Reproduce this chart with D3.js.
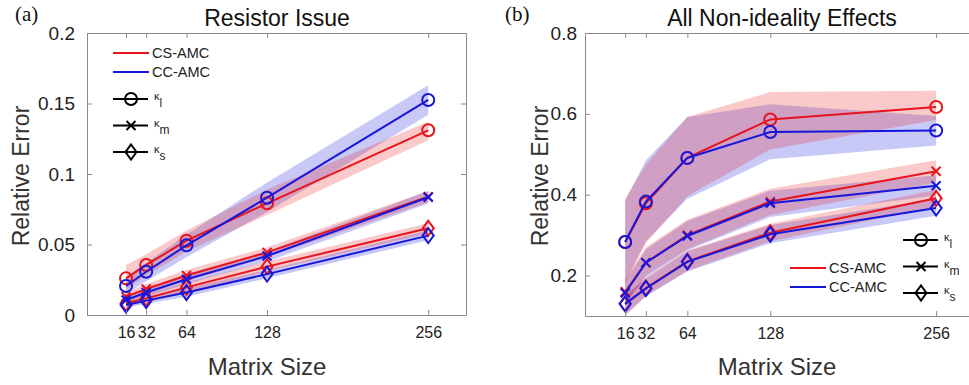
<!DOCTYPE html>
<html lang="en">
<head>
    <meta charset="UTF-8"/>
    <title>Relative Error vs Matrix Size</title>
    <script src="https://cdn.jsdelivr.net/npm/d3@7"></script>
    <style>
        html, body {
            margin: 0;
            background: white;
        }
        svg {
            display: block;
            font-family: "Liberation Sans", Arial, sans-serif;
        }
    </style>
</head>
<body>
<div id="container"></div>

<script>
    // matrix sizes (x axis)
    const sizes = [16, 32, 64, 128, 256]

    // (a) Resistor Issue - mean curves
    const aCsL = [0.026, 0.0355, 0.0527, 0.0792, 0.131]
    const aCcL = [0.0206, 0.0307, 0.0494, 0.0832, 0.1525]
    const aCsM = [0.013, 0.0184, 0.028, 0.0444, 0.0839]
    const aCcM = [0.0106, 0.016, 0.0253, 0.0418, 0.0835]
    const aCsS = [0.0083, 0.0118, 0.0196, 0.0343, 0.0615]
    const aCcS = [0.0071, 0.0102, 0.016, 0.029, 0.0563]
    // (a) shaded bands (upper / lower)
    const aCsLHi = [0.0355, 0.043, 0.060, 0.089, 0.137]
    const aCsLLo = [0.018, 0.028, 0.045, 0.071, 0.124]
    const aCcLHi = [0.027, 0.037, 0.057, 0.094, 0.163]
    const aCcLLo = [0.015, 0.024, 0.041, 0.073, 0.142]
    const aCsMHi = [0.016, 0.022, 0.032, 0.048, 0.088]
    const aCsMLo = [0.010, 0.015, 0.024, 0.041, 0.080]
    const aCcMHi = [0.013, 0.019, 0.029, 0.045, 0.088]
    const aCcMLo = [0.008, 0.013, 0.022, 0.038, 0.079]
    const aCsSHi = [0.011, 0.015, 0.023, 0.038, 0.065]
    const aCsSLo = [0.006, 0.009, 0.016, 0.031, 0.058]
    const aCcSHi = [0.009, 0.013, 0.019, 0.032, 0.060]
    const aCcSLo = [0.005, 0.008, 0.013, 0.026, 0.053]

    // (b) All Non-ideality Effects - mean curves
    const bCsL = [0.283, 0.379, 0.491, 0.586, 0.617]
    const bCcL = [0.283, 0.383, 0.491, 0.555, 0.559]
    const bCsM = [0.16, 0.232, 0.30, 0.383, 0.458]
    const bCcM = [0.157, 0.232, 0.298, 0.379, 0.422]
    const bCsS = [0.13, 0.169, 0.235, 0.306, 0.391]
    const bCcS = [0.13, 0.168, 0.234, 0.302, 0.367]
    // (b) shaded bands
    const bCsLHi = [0.39, 0.475, 0.592, 0.654, 0.657]
    const bCsLLo = [0.18, 0.28, 0.396, 0.512, 0.585]
    const bCcLHi = [0.385, 0.485, 0.592, 0.624, 0.595]
    const bCcLLo = [0.185, 0.285, 0.39, 0.488, 0.522]
    const bCsMHi = [0.19, 0.27, 0.338, 0.415, 0.485]
    const bCsMLo = [0.13, 0.20, 0.265, 0.35, 0.43]
    const bCcMHi = [0.185, 0.265, 0.335, 0.41, 0.448]
    const bCcMLo = [0.13, 0.195, 0.262, 0.345, 0.398]
    const bCsSHi = [0.15, 0.195, 0.262, 0.328, 0.412]
    const bCsSLo = [0.102, 0.15, 0.212, 0.285, 0.37]
    const bCcSHi = [0.15, 0.193, 0.26, 0.325, 0.39]
    const bCcSLo = [0.102, 0.148, 0.21, 0.28, 0.348]

    const aTicksY = [0, 0.05, 0.1, 0.15, 0.2]
    const bTicksY = [0.2, 0.4, 0.6, 0.8]
    const methods = ['CS-AMC', 'CC-AMC']
    const kappas = ['l', 'm', 's']

    const RED = '#e8141c'
    const BLUE = '#1717dc'
    const AXIS = '#8a8a8a'

    const svg = d3.select('#container').append('svg')
        .attr('width', 969)
        .attr('height', 385)

    function marker(g, type, x, y, color) {
        if (type === 'l') {
            g.append('circle').attr('cx', x).attr('cy', y).attr('r', 6)
                .attr('fill', 'none').attr('stroke', color).attr('stroke-width', 2)
        } else if (type === 'm') {
            const s = 4.5
            g.append('path')
                .attr('d', `M${x - s},${y - s}L${x + s},${y + s}M${x - s},${y + s}L${x + s},${y - s}`)
                .attr('stroke', color).attr('stroke-width', 2)
        } else {
            g.append('path')
                .attr('d', `M${x},${y - 7.5}L${x + 5.5},${y}L${x},${y + 7.5}L${x - 5.5},${y}Z`)
                .attr('fill', 'none').attr('stroke', color).attr('stroke-width', 2)
        }
    }

    function drawPanel(p) {
        const g = svg.append('g')
        const x = d3.scaleLinear().domain([-15, 286]).range([p.left, p.right])
        const y = d3.scaleLinear().domain(p.yDomain).range([p.bottom, p.top])

        // bands: blue first, red above (mauve overlap)
        const area = d3.area()
            .x((d, i) => x(sizes[i]))
            .y0(d => y(d[0]))
            .y1(d => y(d[1]))
        const bandOrder = p.series.slice().reverse()
        bandOrder.forEach(s => {
            g.append('path')
                .datum(d3.zip(s.lo, s.hi))
                .attr('d', area)
                .attr('fill', s.color)
                .attr('fill-opacity', 0.23)
        })

        // lines + markers (blue on top)
        const line = d3.line().x((d, i) => x(sizes[i])).y(d => y(d))
        p.series.forEach(s => {
            g.append('path')
                .datum(s.mean)
                .attr('d', line)
                .attr('fill', 'none')
                .attr('stroke', s.color)
                .attr('stroke-width', 2)
            s.mean.forEach((v, i) => marker(g, s.kappa, x(sizes[i]), y(v), s.color))
        })

        // axes with inward ticks, MATLAB-like box
        const ax = g.append('g').attr('font-family', '"Liberation Sans", Arial, sans-serif')
        ax.append('g')
            .attr('transform', `translate(0,${p.bottom})`)
            .call(d3.axisBottom(x).tickValues(sizes).tickSizeInner(-5).tickSizeOuter(0).tickPadding(12))
            .call(a => a.selectAll('text').attr('font-size', 16).attr('fill', '#222'))
        ax.append('g')
            .attr('transform', `translate(0,${p.top})`)
            .call(d3.axisTop(x).tickValues(sizes).tickSizeInner(-5).tickSizeOuter(0).tickFormat(''))
        ax.append('g')
            .attr('transform', `translate(${p.left},0)`)
            .call(d3.axisLeft(y).tickValues(p.ticksY).tickSizeInner(-5).tickSizeOuter(0).tickPadding(p.yPad)
                .tickFormat(d => d === 0 ? '0' : String(+d.toFixed(2))))
            .call(a => a.selectAll('text').attr('font-size', 19).attr('fill', '#222'))
        ax.append('g')
            .attr('transform', `translate(${p.right},0)`)
            .call(d3.axisRight(y).tickValues(p.ticksY).tickSizeInner(-5).tickSizeOuter(0).tickFormat(''))
        ax.selectAll('.domain, .tick line').attr('stroke', AXIS)

        // titles
        g.append('text').attr('x', p.titleX).attr('y', 26)
            .attr('text-anchor', 'middle').attr('font-size', 23).attr('fill', '#111')
            .text(p.title)
        g.append('text').attr('x', p.tagX).attr('y', 21)
            .attr('font-family', '"Liberation Serif", "Times New Roman", serif')
            .attr('font-size', 21).attr('fill', '#111')
            .text(p.tag)
        g.append('text').attr('x', p.xLabelX).attr('y', 375)
            .attr('text-anchor', 'middle').attr('font-size', 24).attr('fill', '#333')
            .text('Matrix Size')
        g.append('text')
            .attr('transform', `translate(${p.yLabelX},176) rotate(-90)`)
            .attr('text-anchor', 'middle').attr('font-size', 23).attr('fill', '#333')
            .text('Relative Error')

        // legends: methods
        methods.forEach((m, i) => {
            const ly = p.legM.y + i * 19
            g.append('line').attr('x1', p.legM.x).attr('x2', p.legM.x + 36)
                .attr('y1', ly).attr('y2', ly)
                .attr('stroke', i === 0 ? RED : BLUE).attr('stroke-width', 2)
            g.append('text').attr('x', p.legM.x + 39).attr('y', ly + 5)
                .attr('font-size', 14.5).attr('fill', '#222').text(m)
        })
        // legends: kappas
        kappas.forEach((k, i) => {
            const ly = p.legK.y + i * p.legK.dy
            g.append('line').attr('x1', p.legK.x).attr('x2', p.legK.x + 35)
                .attr('y1', ly).attr('y2', ly)
                .attr('stroke', 'black').attr('stroke-width', 2)
            marker(g, k, p.legK.x + 18, ly, 'black')
            const t = g.append('text').attr('x', p.legK.x + 41).attr('y', ly + 1)
                .attr('font-size', 11).attr('fill', '#222')
            t.append('tspan').text('κ')
            t.append('tspan').attr('dy', 7).attr('font-size', 12).text(k)
        })
    }

    drawPanel({
        left: 87, right: 466, top: 33, bottom: 315,
        yDomain: [0, 0.2], ticksY: aTicksY, yPad: 12,
        title: 'Resistor Issue', titleX: 277, tag: '(a)', tagX: 15,
        xLabelX: 267, yLabelX: 29,
        legM: {x: 113, y: 53},
        legK: {x: 113, y: 99, dy: 26.5},
        series: [
            {color: RED, kappa: 'l', mean: aCsL, hi: aCsLHi, lo: aCsLLo},
            {color: RED, kappa: 'm', mean: aCsM, hi: aCsMHi, lo: aCsMLo},
            {color: RED, kappa: 's', mean: aCsS, hi: aCsSHi, lo: aCsSLo},
            {color: BLUE, kappa: 'l', mean: aCcL, hi: aCcLHi, lo: aCcLLo},
            {color: BLUE, kappa: 'm', mean: aCcM, hi: aCcMHi, lo: aCcMLo},
            {color: BLUE, kappa: 's', mean: aCcS, hi: aCcSHi, lo: aCcSLo}
        ]
    })

    drawPanel({
        left: 585, right: 975, top: 33, bottom: 316,
        yDomain: [0.1, 0.8], ticksY: bTicksY, yPad: 8,
        title: 'All Non-ideality Effects', titleX: 782, tag: '(b)', tagX: 505,
        xLabelX: 777, yLabelX: 548,
        legM: {x: 790, y: 268},
        legK: {x: 903, y: 240, dy: 26.5},
        series: [
            {color: RED, kappa: 'l', mean: bCsL, hi: bCsLHi, lo: bCsLLo},
            {color: RED, kappa: 'm', mean: bCsM, hi: bCsMHi, lo: bCsMLo},
            {color: RED, kappa: 's', mean: bCsS, hi: bCsSHi, lo: bCsSLo},
            {color: BLUE, kappa: 'l', mean: bCcL, hi: bCcLHi, lo: bCcLLo},
            {color: BLUE, kappa: 'm', mean: bCcM, hi: bCcMHi, lo: bCcMLo},
            {color: BLUE, kappa: 's', mean: bCcS, hi: bCcSHi, lo: bCcSLo}
        ]
    })
</script>
</body>
</html>
